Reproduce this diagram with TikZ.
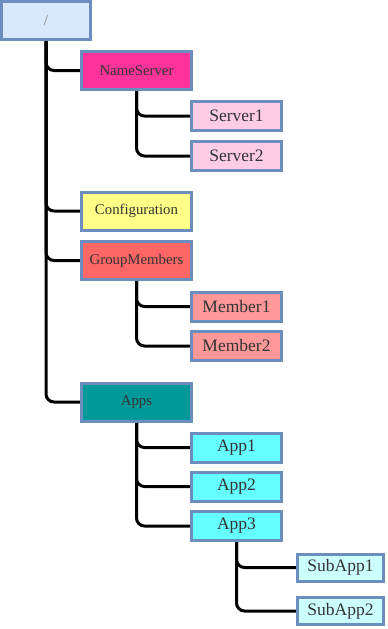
\documentclass[tikz,border=0pt]{standalone}
\usepackage{fontspec}
\setmainfont{Liberation Serif}
\usetikzlibrary{backgrounds}
\definecolor{bord}{HTML}{6C8EBF}
\definecolor{rootfill}{HTML}{DAE8FC}
\definecolor{nsfill}{HTML}{FF3399}
\definecolor{srvfill}{HTML}{FFCCE6}
\definecolor{cfgfill}{HTML}{FFFF88}
\definecolor{gmfill}{HTML}{FF6666}
\definecolor{memfill}{HTML}{FF9999}
\definecolor{appsfill}{HTML}{009999}
\definecolor{appfill}{HTML}{66FFFF}
\definecolor{subfill}{HTML}{CCFFFF}
\definecolor{txt}{HTML}{333333}
\tikzset{
  box/.style={draw=bord, line width=3pt, rectangle, inner sep=0pt, outer sep=0pt, text=txt},
  rootbox/.style={box, fill=rootfill, minimum width=89pt, minimum height=38pt, text=gray, font=\fontsize{15}{18}\selectfont},
  lvlbox/.style={box, minimum width=110pt, minimum height=38pt, font=\fontsize{14.8}{18}\selectfont},
  leafbox/.style={box, minimum width=90pt, minimum height=29pt, font=\fontsize{17.5}{20}\selectfont},
  subbox/.style={box, fill=subfill, minimum width=86pt, minimum height=27pt, font=\fontsize{17.5}{20}\selectfont},
  conn/.style={draw=black, line width=3pt, rounded corners=8pt}
}
\begin{document}
\begin{tikzpicture}[x=1pt,y=-1pt]
\useasboundingbox (0,0) rectangle (388,629);
\node[rootbox] (root) at (46,20.5) {/};
\node[lvlbox, fill=nsfill] (ns) at (136.5,70.5) {NameServer};
\node[leafbox, fill=srvfill] (s1) at (236.5,116) {Server1};
\node[leafbox, fill=srvfill] (s2) at (236.5,156) {Server2};
\node[lvlbox, fill=cfgfill] (cfg) at (136.5,211) {Configuration};
\node[lvlbox, fill=gmfill] (gm) at (136.5,260.5) {GroupMembers};
\node[leafbox, fill=memfill] (m1) at (236.5,306.5) {Member1};
\node[leafbox, fill=memfill] (m2) at (236.5,346) {Member2};
\node[lvlbox, fill=appsfill] (apps) at (136.5,402) {Apps};
\node[leafbox, fill=appfill] (a1) at (236.5,447.5) {App1};
\node[leafbox, fill=appfill] (a2) at (236.5,486.5) {App2};
\node[leafbox, fill=appfill] (a3) at (236.5,526) {App3};
\node[subbox] (sa1) at (340.5,567.5) {SubApp1};
\node[subbox] (sa2) at (340.5,611) {SubApp2};
\begin{scope}[on background layer]
\foreach \p/\c in {root/ns, root/cfg, root/gm, root/apps, ns/s1, ns/s2, gm/m1, gm/m2, apps/a1, apps/a2, apps/a3, a3/sa1, a3/sa2}
  \draw[conn] (\p.south) |- (\c.west);
\end{scope}
\end{tikzpicture}
\end{document}
